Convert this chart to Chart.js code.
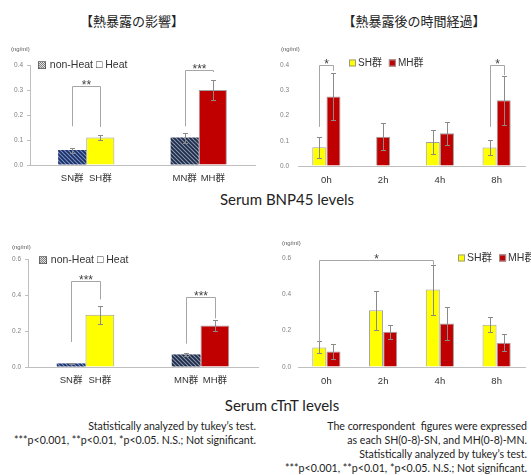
<!DOCTYPE html>
<html>
<head>
<meta charset="utf-8">
<script src="https://cdn.jsdelivr.net/npm/chart.js@4"></script>
<style>
  body { margin: 0; background: #fff; }
  #page { position: relative; width: 531px; height: 475px; overflow: hidden; background: #fff; color: #222; font-family: Lato, "Noto Sans CJK JP", sans-serif; }
  #page canvas, .txt { position: absolute; }
  .head { font-family: "Noto Sans CJK JP"; font-size: 13px; transform: translate(-50%, -50%); white-space: nowrap; }
  .sub { font-size: 15px; transform: translate(-50%, -50%); white-space: nowrap; }
  .note { font-size: 10.6px; line-height: 14px; text-align: right; white-space: nowrap; }
</style>
</head>
<body>
<div id="page">
  <div class="txt head" style="left:132px;top:20px">【熱暴露の影響】</div>
  <div class="txt head" style="left:414px;top:20px">【熱暴露後の時間経過】</div>
  <canvas id="bnpEffect" width="265" height="150" style="left:0;top:40px"></canvas>
  <canvas id="bnpTime" width="266" height="150" style="left:265px;top:40px"></canvas>
  <div class="txt sub" style="left:287px;top:199px">Serum BNP45 levels</div>
  <canvas id="ctntEffect" width="265" height="150" style="left:0;top:240px"></canvas>
  <canvas id="ctntTime" width="266" height="150" style="left:265px;top:240px"></canvas>
  <div class="txt sub" style="left:282px;top:405px">Serum cTnT levels</div>
  <div class="txt note" style="right:275px;top:419px">Statistically analyzed by tukey’s test.<br>***p&lt;0.001, **p&lt;0.01, *p&lt;0.05. N.S.; Not significant.</div>
  <div class="txt note" style="right:4px;top:419px">The correspondent&nbsp; figures were expressed<br>as each SH(0-8)-SN, and MH(0-8)-MN.<br>Statistically analyzed by tukey’s test.<br>***p&lt;0.001, **p&lt;0.01, *p&lt;0.05. N.S.; Not significant.</div>
</div>
<script>
// Data - heat exposure effect (groups)
const groups = ["S", "M"];
const nonHeatLabels = ["SN群", "MN群"];
const heatLabels = ["SH群", "MH群"];

const bnpNonHeat = [0.06, 0.11];
const bnpNonHeatErr = [0.01, 0.02];
const bnpHeat = [0.11, 0.30];
const bnpHeatErr = [0.01, 0.04];

const ctntNonHeat = [0.02, 0.07];
const ctntNonHeatErr = [0.004, 0.01];
const ctntHeat = [0.29, 0.23];
const ctntHeatErr = [0.05, 0.03];

// Data - time course after exposure
const timeLabels = ["0h", "2h", "4h", "8h"];
const bnpSH = [0.074, null, 0.095, 0.073];
const bnpSHErr = [0.042, null, 0.047, 0.028];
const bnpMH = [0.275, 0.116, 0.13, 0.26];
const bnpMHErr = [0.094, 0.054, 0.046, 0.098];

const ctntSH = [0.108, 0.312, 0.426, 0.233];
const ctntSHErr = [0.033, 0.107, 0.138, 0.04];
const ctntMH = [0.086, 0.194, 0.239, 0.134];
const ctntMHErr = [0.04, 0.038, 0.089, 0.046];

// Significance brackets: [dataset, index] of each end, bracket top, leg ends
const bnpEffectSig = [
  { a: [0, 0], b: [1, 0], top: 0.316, left: 0.155, right: 0.152, text: "**" },
  { a: [0, 1], b: [1, 1], top: 0.38, left: 0.155, right: 0.372, text: "***" },
];
const bnpTimeSig = [
  { a: [0, 0], b: [1, 0], top: 0.4, left: 0.155, right: 0.377, text: "*" },
  { a: [0, 3], b: [1, 3], top: 0.4, left: 0.155, right: 0.36, text: "*" },
];
const ctntEffectSig = [
  { a: [0, 0], b: [1, 0], top: 0.478, left: 0.139, right: 0.375, text: "***" },
  { a: [0, 1], b: [1, 1], top: 0.39, left: 0.13, right: 0.27, text: "***" },
];
const ctntTimeSig = [
  { a: [0, 0], b: [0, 2], top: 0.587, left: 0.138, right: 0.563, text: "*" },
];

const YELLOW = "#FFFF00";
const RED = "#C00000";

// hatched fill for the non-Heat bars
function hatch(canvasId, base, stripe) {
  const c = document.createElement("canvas");
  c.width = 4;
  c.height = 4;
  const g = c.getContext("2d");
  g.fillStyle = base;
  g.fillRect(0, 0, 4, 4);
  g.strokeStyle = stripe;
  g.lineWidth = 1.7;
  g.beginPath();
  g.moveTo(-1, -1); g.lineTo(5, 5);
  g.moveTo(-1, 3); g.lineTo(1, 5);
  g.moveTo(3, -1); g.lineTo(5, 1);
  g.stroke();
  return document.getElementById(canvasId).getContext("2d").createPattern(c, "repeat");
}

// error bars, brackets, labels, legend, unit
const marks = {
  id: "marks",
  afterDatasetsDraw(chart, args, opts) {
    const ctx = chart.ctx;
    const y = chart.scales.y;
    const area = chart.chartArea;
    ctx.save();

    ctx.strokeStyle = "#8a8a8a";
    ctx.lineWidth = 1;
    chart.data.datasets.forEach((ds, i) => {
      chart.getDatasetMeta(i).data.forEach((bar, j) => {
        const v = ds.data[j], e = ds.errors[j];
        if (v == null || e == null) return;
        const x = Math.round(bar.x) + 0.5;
        const t = Math.round(y.getPixelForValue(v + e)) + 0.5;
        const b = Math.round(y.getPixelForValue(v - e)) + 0.5;
        ctx.beginPath();
        ctx.moveTo(x, t); ctx.lineTo(x, b);
        ctx.moveTo(x - 2.5, t); ctx.lineTo(x + 2.5, t);
        ctx.moveTo(x - 2.5, b); ctx.lineTo(x + 2.5, b);
        ctx.stroke();
      });
    });

    opts.brackets.forEach((br) => {
      const x1 = Math.round(chart.getDatasetMeta(br.a[0]).data[br.a[1]].x) + 0.5;
      const x2 = Math.round(chart.getDatasetMeta(br.b[0]).data[br.b[1]].x) + 0.5;
      const yt = Math.round(y.getPixelForValue(br.top)) + 0.5;
      ctx.strokeStyle = "#a6a6a6";
      ctx.beginPath();
      ctx.moveTo(x1, y.getPixelForValue(br.left));
      ctx.lineTo(x1, yt);
      ctx.lineTo(x2, yt);
      ctx.lineTo(x2, y.getPixelForValue(br.right));
      ctx.stroke();
      ctx.fillStyle = "#404040";
      ctx.font = '12px "Liberation Sans"';
      ctx.textAlign = "center";
      ctx.textBaseline = "alphabetic";
      ctx.fillText(br.text, (x1 + x2) / 2, yt + 2);
    });

    // category / bar labels
    ctx.fillStyle = "#333";
    ctx.font = '9.5px "Liberation Sans", "Noto Sans CJK JP"';
    ctx.textAlign = "center";
    ctx.textBaseline = "middle";
    const ly = area.bottom + opts.labelGap;
    if (opts.perBar) {
      chart.data.datasets.forEach((ds, i) => {
        chart.getDatasetMeta(i).data.forEach((bar, j) => ctx.fillText(ds.barLabels[j], bar.x, ly));
      });
    } else {
      chart.data.labels.forEach((l, j) => ctx.fillText(l, chart.scales.x.getPixelForValue(j), ly));
    }

    // unit
    ctx.fillStyle = "#555";
    ctx.font = '6px "Liberation Sans"';
    ctx.textAlign = "left";
    ctx.fillText("(ng/ml)", area.left + opts.unit[0], area.top + opts.unit[1]);

    // legend
    const lg = opts.legend;
    const ds = chart.data.datasets;
    ctx.fillStyle = "#333";
    ctx.font = lg.size + 'px "Liberation Sans", "DejaVu Sans", "Noto Sans CJK JP"';
    ctx.textBaseline = "middle";
    let lx = area.left + lg.dx;
    const lyy = area.top + lg.dy;
    if (lg.hatched) {
      ctx.fillText("▧ " + ds[0].label + " □ " + ds[1].label, lx, lyy);
    } else {
      ds.forEach((d) => {
        ctx.fillStyle = d.legendColor;
        ctx.fillRect(lx, lyy - 3.5, 7, 7);
        ctx.strokeStyle = "#999";
        ctx.strokeRect(lx + 0.5, lyy - 3, 6, 6);
        ctx.fillStyle = "#333";
        ctx.fillText(d.label, lx + 9, lyy);
        lx += 9 + ctx.measureText(d.label).width + 7;
      });
    }
    ctx.restore();
  },
};

function makeChart(id, labels, datasets, cfg) {
  return new Chart(document.getElementById(id), {
    type: "bar",
    data: { labels: labels, datasets: datasets },
    options: {
      responsive: false,
      animation: false,
      devicePixelRatio: 1,
      layout: { padding: cfg.pad },
      datasets: {
        bar: {
          categoryPercentage: 0.5,
          barPercentage: 1,
          borderColor: "#a0a0a0",
          borderWidth: 1,
          skipNull: true,
          maxBarThickness: cfg.maxBar,
        },
      },
      plugins: {
        legend: { display: false },
        tooltip: { enabled: false },
        marks: cfg.marks,
      },
      scales: {
        x: {
          grid: { display: false },
          border: { color: "#bfbfbf" },
          ticks: { display: false },
          afterFit: (s) => { s.height = cfg.xh; },
        },
        y: {
          min: 0,
          max: cfg.max,
          ticks: {
            stepSize: cfg.step,
            callback: (v) => v.toFixed(1),
            font: { size: 6.5, family: "Liberation Sans" },
            color: "#808080",
            padding: cfg.tickPad,
          },
          grid: { display: true, drawOnChartArea: false, drawTicks: cfg.yLine, tickLength: 3, color: "#bfbfbf" },
          border: { display: cfg.yLine, color: "#bfbfbf" },
          afterFit: (s) => { s.width = cfg.yw; },
        },
      },
    },
    plugins: [marks],
  });
}

// BNP45 - heat effect
makeChart("bnpEffect", groups, [
  { label: "non-Heat", data: bnpNonHeat, errors: bnpNonHeatErr, barLabels: nonHeatLabels, borderWidth: 0,
    backgroundColor: [hatch("bnpEffect", "#7393D6", "#1F2D5A"), hatch("bnpEffect", "#8797B2", "#1F2A44")] },
  { label: "Heat", data: bnpHeat, errors: bnpHeatErr, barLabels: heatLabels, backgroundColor: [YELLOW, RED] },
], {
  pad: { top: 25, right: 10, left: 0, bottom: 0 }, xh: 25, yw: 30, max: 0.4, step: 0.1, tickPad: 4, yLine: true,
  marks: { brackets: bnpEffectSig, perBar: true, labelGap: 13, unit: [-19, -16], legend: { hatched: true, dx: 7, dy: 0, size: 10.5 } },
});

// BNP45 - time course
makeChart("bnpTime", timeLabels, [
  { label: "SH群", data: bnpSH, errors: bnpSHErr, backgroundColor: YELLOW, legendColor: YELLOW },
  { label: "MH群", data: bnpMH, errors: bnpMHErr, backgroundColor: RED, legendColor: RED },
], {
  pad: { top: 25, right: 6, left: 0, bottom: 0 }, xh: 24, yw: 33, max: 0.4, step: 0.1, tickPad: 9, yLine: false, maxBar: 14,
  marks: { brackets: bnpTimeSig, perBar: false, labelGap: 14, unit: [-17, -16], legend: { dx: 51, dy: -2, size: 10 } },
});

// cTnT - heat effect
makeChart("ctntEffect", groups, [
  { label: "non-Heat", data: ctntNonHeat, errors: ctntNonHeatErr, barLabels: nonHeatLabels, borderWidth: 0,
    backgroundColor: [hatch("ctntEffect", "#7393D6", "#1F2D5A"), hatch("ctntEffect", "#8797B2", "#1F2A44")] },
  { label: "Heat", data: ctntHeat, errors: ctntHeatErr, barLabels: heatLabels, backgroundColor: [YELLOW, RED] },
], {
  pad: { top: 19, right: 7, left: 0, bottom: 0 }, xh: 23, yw: 28, max: 0.6, step: 0.2, tickPad: 4, yLine: true,
  marks: { brackets: ctntEffectSig, perBar: true, labelGap: 13, unit: [-16, -12], legend: { hatched: true, dx: 10, dy: 1, size: 10.5 } },
});

// cTnT - time course
makeChart("ctntTime", timeLabels, [
  { label: "SH群", data: ctntSH, errors: ctntSHErr, backgroundColor: YELLOW, legendColor: YELLOW },
  { label: "MH群", data: ctntMH, errors: ctntMHErr, backgroundColor: RED, legendColor: RED },
], {
  pad: { top: 18, right: 6, left: 0, bottom: 0 }, xh: 23, yw: 33, max: 0.6, step: 0.2, tickPad: 7, yLine: false, maxBar: 14,
  marks: { brackets: ctntTimeSig, perBar: false, labelGap: 14, unit: [-16, -15], legend: { dx: 160, dy: 0, size: 10.5 } },
});
</script>
</body>
</html>
